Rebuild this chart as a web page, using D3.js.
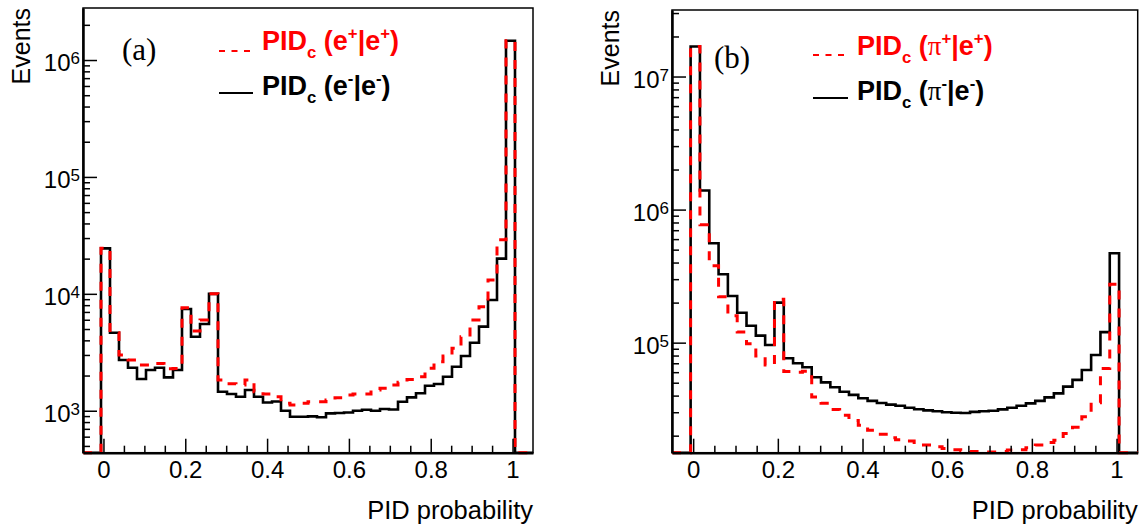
<!DOCTYPE html>
<html>
<head>
<meta charset="utf-8">
<script src="https://cdn.jsdelivr.net/npm/d3@7/dist/d3.min.js"></script>
<style>
  body { margin: 0; background: #fff; }
</style>
</head>
<body>
<div id="chart"></div>
<script>
// histogram bins: 50 bins of width 0.022 starting at -0.05
const binLo = -0.05;
const binWidth = 0.022;

// panel (a): PID_c for electrons
const eMinus = [0, 0, 24500, 4650, 2715, 2333, 1866, 2228, 2333, 1928,
  2228, 7410, 4300, 5520, 10000, 1455, 1390, 1318, 1503, 1318,
  1176, 1200, 1000, 889, 889, 895, 880, 950, 955, 965,
  1000, 1020, 1000, 1035, 1025, 1194, 1300, 1410, 1638, 1692,
  1955, 2378, 2938, 3820, 5240, 8850, 20000, 1460000, 0, 0];
const ePlus = [0, 0, 24500, 4650, 2995, 2715, 2460, 2460, 2540, 2285,
  2300, 7600, 4810, 5970, 10000, 1832, 1700, 1660, 1832, 1455,
  1390, 1318, 1158, 1120, 1158, 1194, 1194, 1233, 1291, 1361,
  1390, 1390, 1503, 1556, 1660, 1750, 1853, 1955, 2306, 2624,
  2938, 3420, 4300, 5970, 7760, 13100, 29000, 1460000, 0, 0];

// panel (b): PID_c for pions
const piMinus = [0, 0, 1.68e7, 1.39e6, 5.58e5, 3.27e5, 2.24e5, 1.68e5, 1.34e5, 1.13e5,
  9.6e4, 2.0e5, 7.64e4, 7.0e4, 6.53e4, 5.5e4, 5.03e4, 4.62e4, 4.28e4, 4.05e4,
  3.82e4, 3.65e4, 3.52e4, 3.42e4, 3.36e4, 3.24e4, 3.16e4, 3.1e4, 3.05e4, 3.0e4,
  2.97e4, 2.96e4, 3.02e4, 3.05e4, 3.08e4, 3.15e4, 3.24e4, 3.36e4, 3.5e4, 3.65e4,
  3.88e4, 4.16e4, 4.67e4, 5.25e4, 6.23e4, 8.08e4, 1.2e5, 4.7e5, 0, 0];
const piPlus = [0, 0, 1.68e7, 7.7e5, 3.78e5, 2.21e5, 1.59e5, 1.2e5, 9.8e4, 7.94e4,
  6.8e4, 2.12e5, 6.06e4, 6.0e4, 6.1e4, 3.9e4, 3.5e4, 3.15e4, 2.85e4, 2.6e4,
  2.4e4, 2.2e4, 2.05e4, 1.93e4, 1.86e4, 1.82e4, 1.78e4, 1.7e4, 1.65e4, 1.6e4,
  1.57e4, 1.54e4, 1.52e4, 1.51e4, 1.51e4, 1.52e4, 1.56e4, 1.57e4, 1.62e4, 1.7e4,
  1.78e4, 1.85e4, 2.08e4, 2.31e4, 2.78e4, 3.54e4, 6.4e4, 2.75e5, 0, 0];

// axis ticks
const xMajor = [0, 0.2, 0.4, 0.6, 0.8, 1];
const xMinor = [0.05, 0.1, 0.15, 0.25, 0.3, 0.35, 0.45, 0.5, 0.55, 0.65, 0.7, 0.75, 0.85, 0.9, 0.95];
const aYMajor = [1e3, 1e4, 1e5, 1e6];
const bYMajor = [1e5, 1e6, 1e7];

const sans = "'Liberation Sans', Arial, Helvetica, sans-serif";
const serif = "'Liberation Serif', 'Times New Roman', serif";

const W = 1141, H = 527;
const svg = d3.select("#chart").append("svg")
  .attr("width", W).attr("height", H)
  .style("font-family", sans);

const panels = [
  { left: 83, top: 8, right: 533, bottom: 452.7, yDomain: [Math.pow(10, 2.641), Math.pow(10, 6.445)],
    yMajor: aYMajor, black: eMinus, red: ePlus, tag: "(a)", tagX: 122, tagY: 60,
    leg: { lineX: [219, 253], textX: 262, y1: 50, y2: 95, l1: 51, l2: 93 }, part: "e" },
  { left: 672, top: 10, right: 1137.7, bottom: 452.7, yDomain: [Math.pow(10, 4.173), Math.pow(10, 7.5)],
    yMajor: bYMajor, black: piMinus, red: piPlus, tag: "(b)", tagX: 714, tagY: 68,
    leg: { lineX: [813, 848], textX: 857, y1: 55, y2: 100, l1: 55, l2: 98 }, part: "pi" }
];

function stepPoints(vals, yMin) {
  const pts = [];
  vals.forEach(function (v, i) {
    const a = binLo + i * binWidth;
    const vv = Math.max(v, yMin);
    pts.push([a, vv], [a + binWidth, vv]);
  });
  return pts;
}

// text with sub/superscripts, parts: [text, mode, family]
function richText(g, x, y, color, parts, size) {
  const t = g.append("text").attr("x", x).attr("y", y)
    .attr("fill", color).attr("font-size", size).attr("font-weight", "bold");
  let shift = 0;
  parts.forEach(function (p) {
    let target = 0;
    if (p[1] === "sub") target = size * 0.28;
    if (p[1] === "sup") target = -size * 0.42;
    const ts = t.append("tspan").attr("dy", target - shift).text(p[0]);
    if (p[1]) ts.attr("font-size", size * 0.62);
    if (p[2]) ts.style("font-family", p[2]).attr("font-weight", "normal");
    shift = target;
  });
}

panels.forEach(function (p) {
  const g = svg.append("g");
  const x = d3.scaleLinear().domain([-0.05, 1.05]).range([p.left, p.right]);
  const y = d3.scaleLog().domain(p.yDomain).range([p.bottom, p.top]);

  // frame
  g.append("rect")
    .attr("x", p.left).attr("y", p.top)
    .attr("width", p.right - p.left).attr("height", p.bottom - p.top)
    .attr("fill", "none").attr("stroke", "black").attr("stroke-width", 1.5);

  // histograms, black first then red dashed on top
  const line = d3.line().x(d => x(d[0])).y(d => y(d[1]));
  g.append("path")
    .attr("d", line(stepPoints(p.black, p.yDomain[0])))
    .attr("fill", "none").attr("stroke", "black").attr("stroke-width", 2.6);
  g.append("path")
    .attr("d", line(stepPoints(p.red, p.yDomain[0])))
    .attr("fill", "none").attr("stroke", "#ff0000").attr("stroke-width", 3)
    .attr("stroke-dasharray", "9,9");

  // x axis
  const xAx = g.append("g").attr("transform", `translate(0,${p.bottom})`)
    .call(d3.axisBottom(x).tickValues(xMajor).tickSize(-14).tickSizeOuter(0)
      .tickPadding(8).tickFormat(d3.format("")));
  g.append("g").attr("transform", `translate(0,${p.bottom})`)
    .call(d3.axisBottom(x).tickValues(xMinor).tickSize(-7).tickSizeOuter(0).tickFormat(""))
    .select(".domain").remove();

  // y axis
  const yMinor = y.ticks().filter(v => p.yMajor.indexOf(v) < 0 && Math.round(v / Math.pow(10, Math.floor(Math.log10(v) + 1e-9))) !== 1);
  const yAx = g.append("g").attr("transform", `translate(${p.left},0)`)
    .call(d3.axisLeft(y).tickValues(p.yMajor).tickSize(-14).tickSizeOuter(0).tickPadding(3).tickFormat(""));
  g.append("g").attr("transform", `translate(${p.left},0)`)
    .call(d3.axisLeft(y).tickValues(yMinor).tickSize(-7).tickSizeOuter(0).tickFormat(""))
    .select(".domain").remove();

  [xAx, yAx].forEach(function (ax) {
    ax.attr("font-family", null);
    ax.select(".domain").attr("stroke-width", 2.5);
    ax.selectAll("text").attr("font-size", 24).attr("fill", "black");
  });
  g.selectAll(".tick line").attr("stroke-width", 1.5);

  yAx.selectAll(".tick text").each(function (d) {
    const t = d3.select(this);
    t.text(null).attr("dy", "0.45em");
    t.append("tspan").text("10");
    t.append("tspan").attr("dy", "-0.42em").attr("font-size", 17).text(Math.round(Math.log10(d)));
  });

  // axis titles
  g.append("text")
    .attr("transform", `translate(${p.left - 53},${p.top}) rotate(-90)`)
    .attr("text-anchor", "end").attr("font-size", 25).text("Events");
  g.append("text")
    .attr("x", p.right).attr("y", 519)
    .attr("text-anchor", "end").attr("font-size", 25.5).text("PID probability");

  // panel tag
  g.append("text")
    .attr("x", p.tagX).attr("y", p.tagY)
    .style("font-family", serif)
    .attr("font-size", 31).text(p.tag);

  // legend
  const L = p.leg;
  g.append("line").attr("x1", L.lineX[0]).attr("x2", L.lineX[1])
    .attr("y1", L.l1).attr("y2", L.l1)
    .attr("stroke", "#ff0000").attr("stroke-width", 2).attr("stroke-dasharray", "6,6.5");
  g.append("line").attr("x1", L.lineX[0]).attr("x2", L.lineX[1])
    .attr("y1", L.l2).attr("y2", L.l2)
    .attr("stroke", "black").attr("stroke-width", 2);

  if (p.part === "e") {
    richText(g, L.textX, L.y1, "#ff0000",
      [["PID"], ["c", "sub"], [" ("], ["e"], ["+", "sup"], ["|"], ["e"], ["+", "sup"], [")"]], 27);
    richText(g, L.textX, L.y2, "black",
      [["PID"], ["c", "sub"], [" ("], ["e"], ["-", "sup"], ["|"], ["e"], ["-", "sup"], [")"]], 27);
  } else {
    richText(g, L.textX, L.y1, "#ff0000",
      [["PID"], ["c", "sub"], [" ("], ["\u03c0", null, serif], ["+", "sup"], ["|"], ["e"], ["+", "sup"], [")"]], 27);
    richText(g, L.textX, L.y2, "black",
      [["PID"], ["c", "sub"], [" ("], ["\u03c0", null, serif], ["-", "sup"], ["|"], ["e"], ["-", "sup"], [")"]], 27);
  }
});
</script>
</body>
</html>
